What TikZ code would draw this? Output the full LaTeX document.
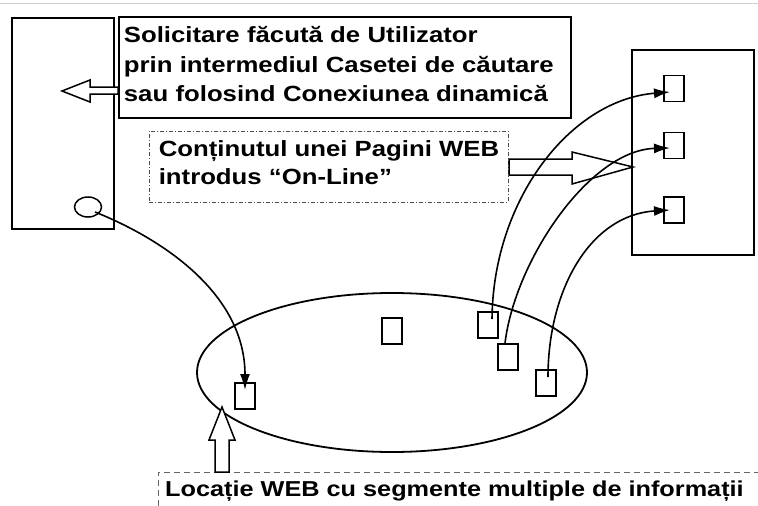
\documentclass[tikz,border=0pt]{standalone}
\usepackage{fontspec}
\setmainfont{Liberation Sans}[FakeStretch=1.17]
\usetikzlibrary{arrows.meta,shapes.geometric}
\begin{document}
\begin{tikzpicture}[x=1pt,y=-1pt,
  frame/.style={draw,line width=1.8pt,inner sep=0pt},
  pagebox/.style={draw,line width=1.5pt,minimum width=20pt,minimum height=26pt,inner sep=0pt},
  link/.style={line width=1.6pt,-{Latex[length=16pt,width=10pt]}},
  hollow/.style={draw,line width=1.5pt,fill=white,line join=miter},
  lbl/.style={font=\fontsize{22}{29.5}\selectfont\bfseries,align=left}]
\useasboundingbox (0,0) rectangle (758,506);
\draw[black!18,line width=1pt] (0,3) -- (758,3);
% left window
\node[frame,minimum width=102pt,minimum height=211pt] (win) at (63,123.5) {};
\node[draw,ellipse,line width=1.5pt,minimum width=27pt,minimum height=20pt,inner sep=0pt] (circ) at (88,207) {};
% right window
\node[frame,minimum width=122pt,minimum height=205pt] (rwin) at (693,152.5) {};
\node[pagebox] (r1) at (674,88.5) {};
\node[pagebox] (r2) at (674,145.5) {};
\node[pagebox] (r3) at (674,210) {};
% request box
\node[frame,lbl,anchor=north west,minimum width=452pt,minimum height=101pt,text width=442pt,inner xsep=5pt] (req) at (118,16)
  {Solicitare făcută de Utilizator\\prin intermediul Casetei de căutare\\sau folosind Conexiunea dinamică\rule[-6pt]{0pt}{6pt}};
% content box
\node[draw,black!70,line width=0.9pt,dash pattern=on 4pt off 2pt on 1pt off 2pt,text=black,align=left,
  font=\fontsize{22}{28}\selectfont\bfseries,anchor=north west,minimum width=359pt,minimum height=71pt,inner xsep=0pt,inner ysep=0pt] (cont) at (149,131)
  {Conținutul unei Pagini WEB\\introdus “On-Line”\rule[-8pt]{0pt}{8pt}};
% web site ellipse
\node[draw,ellipse,line width=1.8pt,minimum width=390pt,minimum height=159pt,inner sep=0pt] (site) at (392,372.5) {};
\node[pagebox] (w1) at (245,396) {};
\node[pagebox] (w2) at (392,331) {};
\node[pagebox] (w3) at (488,325) {};
\node[pagebox] (w4) at (508,357) {};
\node[pagebox] (w5) at (546,383) {};
% bottom label
\node[font=\fontsize{21.6}{26}\selectfont\bfseries,anchor=base west,inner sep=0pt] (loc) at (165,496) {Locație WEB cu segmente multiple de informații};
\draw[black!60,line width=0.9pt,dash pattern=on 6pt off 4pt] (158,506) -- (158,472) -- (758,472);
% hollow arrows
\draw[hollow] (118,87) -- (90,87) -- (90,80) -- (62,91) -- (90,102) -- (90,94) -- (118,94) -- cycle;
\draw[hollow] (509,159) -- (572,159) -- (572,152) -- (633,167) -- (572,184) -- (572,175) -- (509,175) -- cycle;
\draw[hollow] (215,472) -- (215,440) -- (209,440) -- (222,407) -- (235,440) -- (229,440) -- (229,472) -- cycle;
% links
\coordinate (c0) at (95,212);
\draw[link] (c0) .. controls (165,240) and (245,295) .. ([yshift=6pt]w1.center);
\draw[link] ([xshift=4pt,yshift=6pt]w3.center) .. controls (493,200) and (570,100) .. ([xshift=-4pt,yshift=-3.5pt]r1.center);
\draw[link] ([xshift=-3pt]w4.north) .. controls (515,260) and (590,150) .. ([xshift=-4pt,yshift=-2.5pt]r2.center);
\draw[link] ([xshift=2pt,yshift=6pt]w5.center) .. controls (548,290) and (590,215) .. ([xshift=-4pt]r3.center);
\end{tikzpicture}
\end{document}
